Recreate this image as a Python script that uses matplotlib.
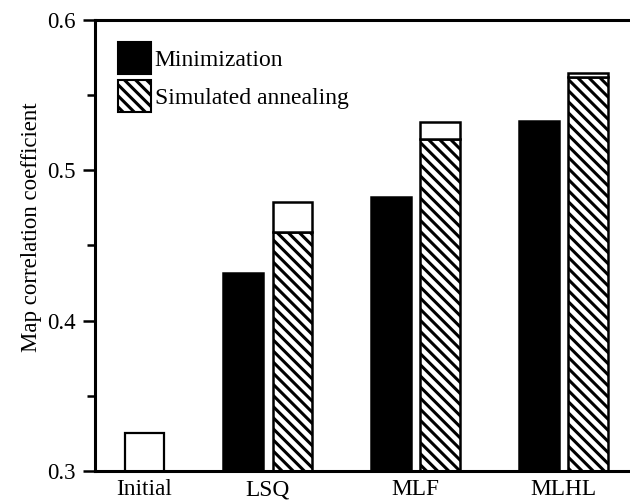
import matplotlib
matplotlib.use("Agg")
import matplotlib.pyplot as plt
from matplotlib.patches import Patch
from matplotlib.ticker import MultipleLocator

categories = ["Initial", "LSQ", "MLF", "MLHL"]
initial_value = 0.325
minimization = [0.432, 0.482, 0.533]
annealing_hatched = [0.459, 0.521, 0.562]
annealing_total = [0.479, 0.532, 0.565]
y_ticks = [0.3, 0.4, 0.5, 0.6]
y_tick_labels = ["0.3", "0.4", "0.5", "0.6"]

plt.rcParams['font.family'] = ['Liberation Serif', 'DejaVu Serif']
plt.rcParams['hatch.linewidth'] = 2.2
plt.rcParams['hatch.color'] = 'black'

HATCH = '\\\\\\'

fig = plt.figure(figsize=(6.3, 5.0), dpi=100)
ax = fig.add_axes([0.1508, 0.058, 0.8492, 0.902])

w = 0.8
ew = 1.8
# Initial bar at slot 0; method groups use slots (3i-1, 3i)
ax.bar(0, initial_value, width=w, color='white', edgecolor='black', linewidth=1.6, zorder=2)
xs_min = [3 * (i + 1) - 1 for i in range(len(minimization))]
xs_sa = [3 * (i + 1) for i in range(len(minimization))]
ax.bar(xs_min, minimization, width=w, color='black', edgecolor='black', linewidth=ew, zorder=2)
ax.bar(xs_sa, annealing_hatched, width=w, color='white', edgecolor='black', hatch=HATCH,
       linewidth=ew, zorder=2)
ax.bar(xs_sa, [t - h for t, h in zip(annealing_total, annealing_hatched)],
       bottom=annealing_hatched, width=w, color='white', edgecolor='black',
       linewidth=ew, zorder=2)

ax.set_xlim(-1, 9.85)
ax.set_ylim(0.3, 0.6)
ax.set_yticks(y_ticks)
ax.set_yticklabels(y_tick_labels)
ax.yaxis.set_minor_locator(MultipleLocator(0.05))
ax.tick_params(axis='y', which='major', length=8.6, width=1.8, direction='out',
               labelsize=16.5, pad=5)
ax.tick_params(axis='y', which='minor', length=5.8, width=1.8, direction='out')
ax.set_xticks([0] + [x + 0.5 for x in xs_min])
ax.set_xticklabels(categories)
ax.tick_params(axis='x', length=0, labelsize=16.8, pad=6)

ax.set_ylabel("Map correlation coefficient", fontsize=16.5)
ax.yaxis.set_label_coords(-0.099, 0.541)

for s in ['left', 'bottom', 'top']:
    ax.spines[s].set_linewidth(2.2)
    ax.spines[s].set_zorder(3)
ax.spines['right'].set_visible(False)

handles = [Patch(facecolor='black', edgecolor='black', linewidth=1.5),
           Patch(facecolor='white', edgecolor='black', hatch=HATCH, linewidth=1.5)]
ax.legend(handles, ["Minimization", "Simulated annealing"], loc='upper left',
          bbox_to_anchor=(0.043, 0.951), frameon=False, borderpad=0, borderaxespad=0,
          handlelength=1.4, handleheight=1.72, handletextpad=0.15, labelspacing=0.25,
          fontsize=17)

fig.savefig("out.png", dpi=100)
